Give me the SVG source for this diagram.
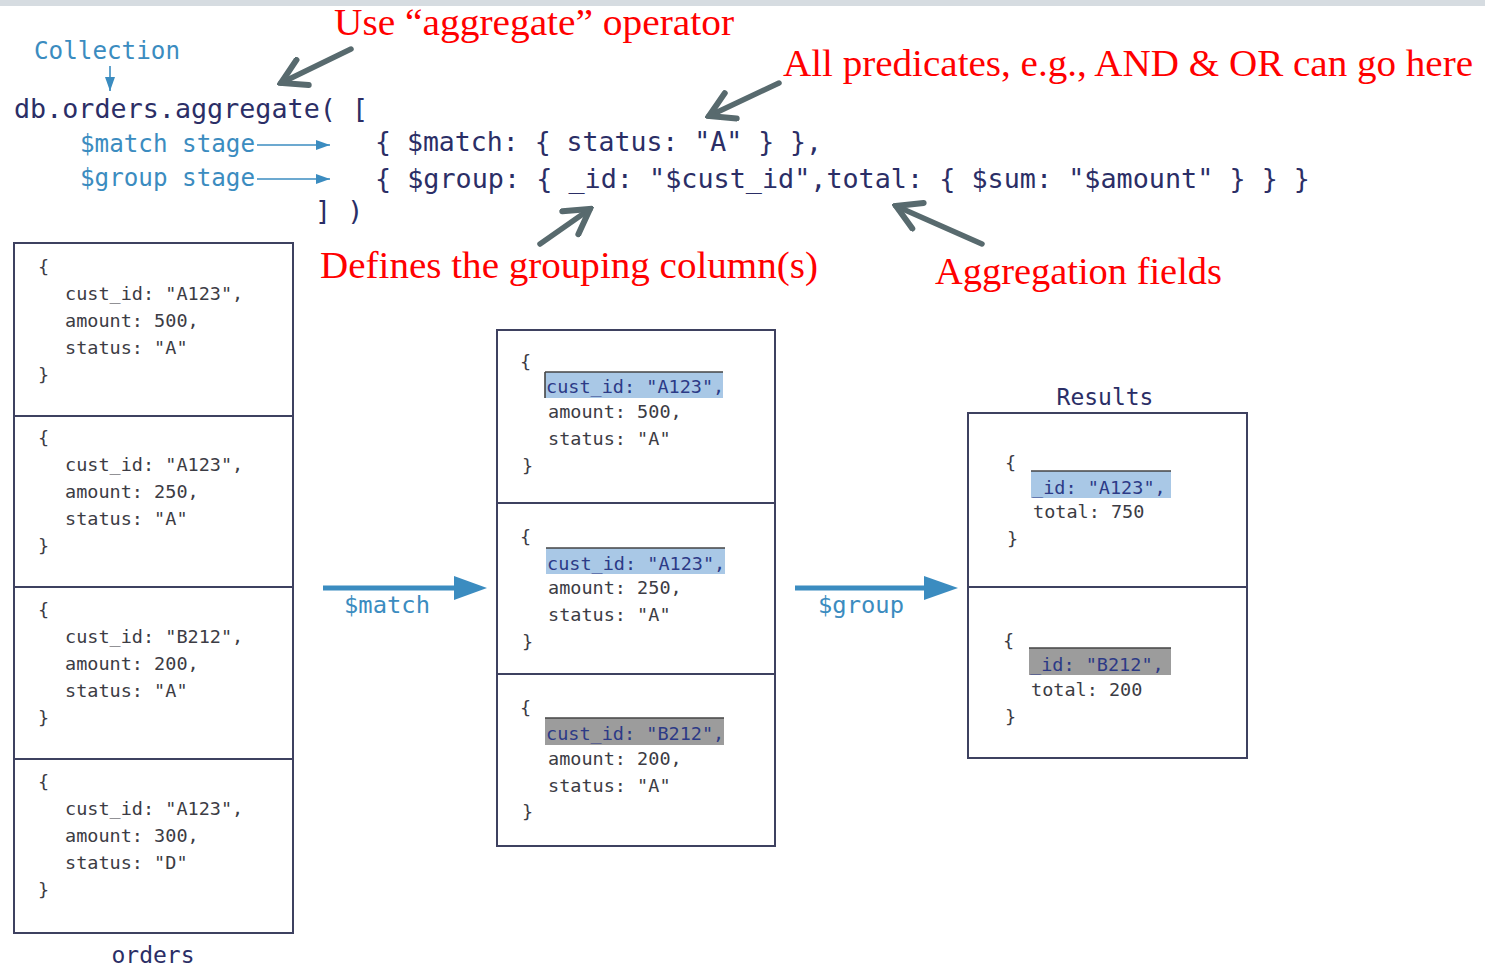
<svg xmlns="http://www.w3.org/2000/svg" width="1485" height="966" viewBox="0 0 1485 966">
  <defs>
    <style>
      .code { font-family: "DejaVu Sans Mono", "Liberation Mono", monospace; fill: #2b2e66; }
      .cap { font-family: "DejaVu Sans Mono", "Liberation Mono", monospace; fill: #3b8cc0; }
      .doc { font-family: "DejaVu Sans Mono", "Liberation Mono", monospace; font-size: 18.5px; fill: #3c3c44; }
      .hl { font-family: "DejaVu Sans Mono", "Liberation Mono", monospace; font-size: 18.5px; fill: #2c3a86; }
      .note { font-family: "Liberation Serif", "Times New Roman", serif; font-size: 38px; fill: #ff0000; }
      .label { font-family: "DejaVu Sans Mono", "Liberation Mono", monospace; font-size: 23px; fill: #2b2e66; }
      .box { fill: #ffffff; stroke: #3e4160; stroke-width: 2; }
      .div { stroke: #3e4160; stroke-width: 2; }
      .hlblue { fill: #a9c8e6; }
      .hlgray { fill: #9c9c9c; }
      .hltop { stroke: #444444; stroke-width: 1.6; }
      .pointer { stroke: #586a6e; stroke-width: 5.5; fill: none; stroke-linecap: round; }
      .thin { stroke: #3b8cc0; stroke-width: 1.6; fill: none; }
      .flow { stroke: #3b8cc0; stroke-width: 5; fill: none; }
    </style>
    <marker id="grayHead" markerUnits="userSpaceOnUse" markerWidth="34" markerHeight="34" viewBox="-30 -17 34 34" refX="0" refY="0" orient="auto">
      <path d="M -24 -14 L 0 0 L -24 14" fill="none" stroke="#586a6e" stroke-width="6" stroke-linejoin="miter" stroke-linecap="round"/>
    </marker>
    <marker id="blueSmall" markerUnits="userSpaceOnUse" markerWidth="16" markerHeight="12" viewBox="0 -6 16 12" refX="14" refY="0" orient="auto">
      <path d="M 0 -5 L 14 0 L 0 5 Z" fill="#3b8cc0"/>
    </marker>
  </defs>

  <!-- page strip -->
  <rect x="0" y="0" width="1485" height="6" fill="#d6dce1"/>

  <!-- query text -->
  <g id="query">
    <text class="cap" x="34" y="59" font-size="24" textLength="146" lengthAdjust="spacingAndGlyphs">Collection</text>
    <text class="code" x="14" y="118" font-size="26.7" textLength="354" lengthAdjust="spacingAndGlyphs">db.orders.aggregate( [</text>
    <text class="cap" x="80" y="152" font-size="24" textLength="175" lengthAdjust="spacingAndGlyphs">$match stage</text>
    <text class="cap" x="80" y="186" font-size="24" textLength="175" lengthAdjust="spacingAndGlyphs">$group stage</text>
    <text class="code" x="375" y="151" font-size="26.7" textLength="447" lengthAdjust="spacingAndGlyphs">{ $match: { status: "A" } },</text>
    <text class="code" x="375" y="188" font-size="26.7" textLength="935" lengthAdjust="spacingAndGlyphs">{ $group: { _id: "$cust_id",total: { $sum: "$amount" } } }</text>
    <text class="code" x="315" y="220" font-size="26.7">] )</text>
  </g>

  <!-- annotations -->
  <g id="notes">
    <text class="note" x="334" y="35" textLength="400" lengthAdjust="spacingAndGlyphs">Use “aggregate” operator</text>
    <text class="note" x="783" y="76" textLength="690" lengthAdjust="spacingAndGlyphs">All predicates, e.g., AND &amp; OR can go here</text>
    <text class="note" x="320" y="278" textLength="498" lengthAdjust="spacingAndGlyphs">Defines the grouping column(s)</text>
    <text class="note" x="935" y="284" textLength="287" lengthAdjust="spacingAndGlyphs">Aggregation fields</text>
  </g>

  <!-- orders collection -->
  <g id="orders">
    <rect class="box" x="14" y="243" width="279" height="690"/>
    <line class="div" x1="14" y1="416" x2="293" y2="416"/>
    <line class="div" x1="14" y1="587" x2="293" y2="587"/>
    <line class="div" x1="14" y1="759" x2="293" y2="759"/>
    <text class="doc" x="38" y="273">{</text>
    <text class="doc" x="65" y="300">cust_id: "A123",</text>
    <text class="doc" x="65" y="327">amount: 500,</text>
    <text class="doc" x="65" y="354">status: "A"</text>
    <text class="doc" x="38" y="381">}</text>
    <text class="doc" x="38" y="444">{</text>
    <text class="doc" x="65" y="471">cust_id: "A123",</text>
    <text class="doc" x="65" y="498">amount: 250,</text>
    <text class="doc" x="65" y="525">status: "A"</text>
    <text class="doc" x="38" y="552">}</text>
    <text class="doc" x="38" y="616">{</text>
    <text class="doc" x="65" y="643">cust_id: "B212",</text>
    <text class="doc" x="65" y="670">amount: 200,</text>
    <text class="doc" x="65" y="697">status: "A"</text>
    <text class="doc" x="38" y="724">}</text>
    <text class="doc" x="38" y="788">{</text>
    <text class="doc" x="65" y="815">cust_id: "A123",</text>
    <text class="doc" x="65" y="842">amount: 300,</text>
    <text class="doc" x="65" y="869">status: "D"</text>
    <text class="doc" x="38" y="896">}</text>
    <text class="label" x="153" y="963" text-anchor="middle">orders</text>
  </g>

  <!-- documents after $match -->
  <g id="matched">
    <rect class="box" x="497" y="330" width="278" height="516"/>
    <line class="div" x1="497" y1="503" x2="775" y2="503"/>
    <line class="div" x1="497" y1="674" x2="775" y2="674"/>
    <text class="doc" x="520" y="368">{</text>
    <rect class="hlblue" x="545" y="372" width="178" height="26"/>
    <line class="hltop" x1="545" y1="372" x2="723" y2="372"/>
    <line class="hltop" x1="545" y1="372" x2="545" y2="398"/>
    <text class="hl" x="546" y="393">cust_id: "A123",</text>
    <text class="doc" x="548" y="418">amount: 500,</text>
    <text class="doc" x="548" y="445">status: "A"</text>
    <text class="doc" x="522" y="472">}</text>
    <text class="doc" x="520" y="543">{</text>
    <rect class="hlblue" x="546" y="548" width="179" height="26"/>
    <line class="hltop" x1="546" y1="548" x2="725" y2="548"/>
    <text class="hl" x="547" y="570">cust_id: "A123",</text>
    <text class="doc" x="548" y="594">amount: 250,</text>
    <text class="doc" x="548" y="621">status: "A"</text>
    <text class="doc" x="522" y="648">}</text>
    <text class="doc" x="520" y="714">{</text>
    <rect class="hlgray" x="545" y="718" width="179" height="27"/>
    <line class="hltop" x1="545" y1="718" x2="724" y2="718"/>
    <text class="hl" x="546" y="740">cust_id: "B212",</text>
    <text class="doc" x="548" y="765">amount: 200,</text>
    <text class="doc" x="548" y="792">status: "A"</text>
    <text class="doc" x="522" y="818">}</text>
  </g>

  <!-- grouped results -->
  <g id="results">
    <text class="label" x="1105" y="405" text-anchor="middle">Results</text>
    <rect class="box" x="968" y="413" width="279" height="345"/>
    <line class="div" x1="968" y1="587" x2="1247" y2="587"/>
    <text class="doc" x="1005" y="469">{</text>
    <rect class="hlblue" x="1031" y="471" width="140" height="27"/>
    <line class="hltop" x1="1031" y1="471" x2="1171" y2="471"/>
    <text class="hl" x="1032" y="494">_id: "A123",</text>
    <text class="doc" x="1033" y="518">total: 750</text>
    <text class="doc" x="1007" y="545">}</text>
    <text class="doc" x="1003" y="647">{</text>
    <rect class="hlgray" x="1029" y="648" width="142" height="27"/>
    <line class="hltop" x1="1029" y1="648" x2="1171" y2="648"/>
    <text class="hl" x="1030" y="671">_id: "B212",</text>
    <text class="doc" x="1031" y="696">total: 200</text>
    <text class="doc" x="1005" y="723">}</text>
  </g>

  <!-- connectors -->
  <g id="connectors">
    <line class="thin" x1="110" y1="66" x2="110" y2="91" marker-end="url(#blueSmall)"/>
    <line class="thin" x1="257" y1="145" x2="330" y2="145" marker-end="url(#blueSmall)"/>
    <line class="thin" x1="257" y1="179" x2="330" y2="179" marker-end="url(#blueSmall)"/>

    <line class="pointer" x1="351" y1="49" x2="281" y2="83" marker-end="url(#grayHead)"/>
    <line class="pointer" x1="779" y1="83" x2="709" y2="116" marker-end="url(#grayHead)"/>
    <line class="pointer" x1="540" y1="244" x2="590" y2="209" marker-end="url(#grayHead)"/>
    <line class="pointer" x1="982" y1="244" x2="896" y2="206" marker-end="url(#grayHead)"/>

    <line class="flow" x1="323" y1="588" x2="458" y2="588"/>
    <polygon points="454,576 487,588 454,600" fill="#3b8cc0"/>
    <text class="cap" x="344" y="613" font-size="23" textLength="86" lengthAdjust="spacingAndGlyphs">$match</text>
    <line class="flow" x1="795" y1="588" x2="928" y2="588"/>
    <polygon points="924,576 958,588 924,600" fill="#3b8cc0"/>
    <text class="cap" x="818" y="613" font-size="23" textLength="86" lengthAdjust="spacingAndGlyphs">$group</text>
  </g>
</svg>
